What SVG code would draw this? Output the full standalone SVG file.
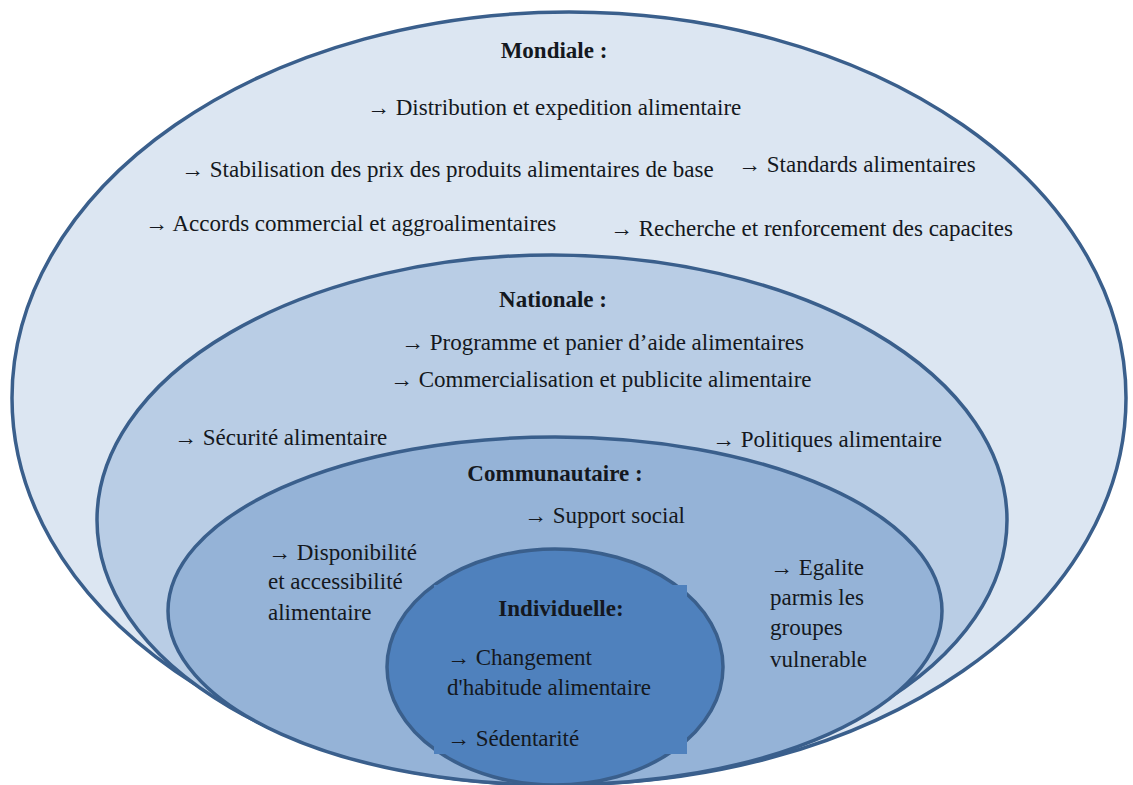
<svg xmlns="http://www.w3.org/2000/svg" width="1133" height="785" viewBox="0 0 1133 785">
<style>
.ring{stroke:#3a5f8c;stroke-width:3.5}
text{font-family:'Liberation Serif','DejaVu Serif',serif;font-size:23px;fill:#141820}
.h{font-weight:bold;text-anchor:middle}
</style>
<rect width="1133" height="785" fill="#ffffff"/>
<g id="mondiale">
<ellipse class="ring" cx="569" cy="398" rx="557" ry="386" fill="#dce6f2"/>
<text class="h" x="554" y="58" font-family="Liberation Serif">Mondiale :</text>
<text x="367" y="115" font-family="Liberation Serif">→ Distribution et expedition alimentaire</text>
<text x="181" y="177" font-family="Liberation Serif">→ Stabilisation des prix des produits alimentaires de base</text>
<text x="738" y="172" font-family="Liberation Serif">→ Standards alimentaires</text>
<text x="145" y="231" font-family="Liberation Serif">→ Accords commercial et aggroalimentaires</text>
<text x="610" y="236" font-family="Liberation Serif">→ Recherche et renforcement des capacites</text>
</g>
<g id="nationale">
<ellipse class="ring" cx="552" cy="520" rx="455" ry="265" fill="#b9cde5"/>
<text class="h" x="553" y="307" font-family="Liberation Serif">Nationale :</text>
<text x="401" y="350" font-family="Liberation Serif">→ Programme et panier d’aide alimentaires</text>
<text x="390" y="387" font-family="Liberation Serif">→ Commercialisation et publicite alimentaire</text>
<text x="174" y="445" font-family="Liberation Serif">→ Sécurité alimentaire</text>
<text x="712" y="447" font-family="Liberation Serif">→ Politiques alimentaire</text>
</g>
<g id="communautaire">
<ellipse class="ring" cx="555" cy="611" rx="387" ry="174" fill="#95b3d7"/>
<text class="h" x="555" y="481" font-family="Liberation Serif">Communautaire :</text>
<text x="524" y="523" font-family="Liberation Serif">→ Support social</text>
<text x="268" y="560" font-family="Liberation Serif">→ Disponibilité</text>
<text x="268" y="589" font-family="Liberation Serif">et accessibilité</text>
<text x="268" y="620" font-family="Liberation Serif">alimentaire</text>
<text x="770" y="575" font-family="Liberation Serif">→ Egalite</text>
<text x="770" y="605" font-family="Liberation Serif">parmis les</text>
<text x="770" y="635" font-family="Liberation Serif">groupes</text>
<text x="770" y="667" font-family="Liberation Serif">vulnerable</text>
</g>
<g id="individuelle">
<ellipse class="ring" cx="555" cy="667" rx="168" ry="118" fill="#4f81bd"/>
<rect x="434" y="585" width="253" height="169" fill="#4f81bd"/>
<text class="h" x="561" y="616" font-family="Liberation Serif">Individuelle:</text>
<text x="447" y="665" font-family="Liberation Serif">→ Changement</text>
<text x="447" y="695" font-family="Liberation Serif">d'habitude alimentaire</text>
<text x="447" y="746" font-family="Liberation Serif">→ Sédentarité</text>
</g>
<g id="connectors"/>
</svg>
